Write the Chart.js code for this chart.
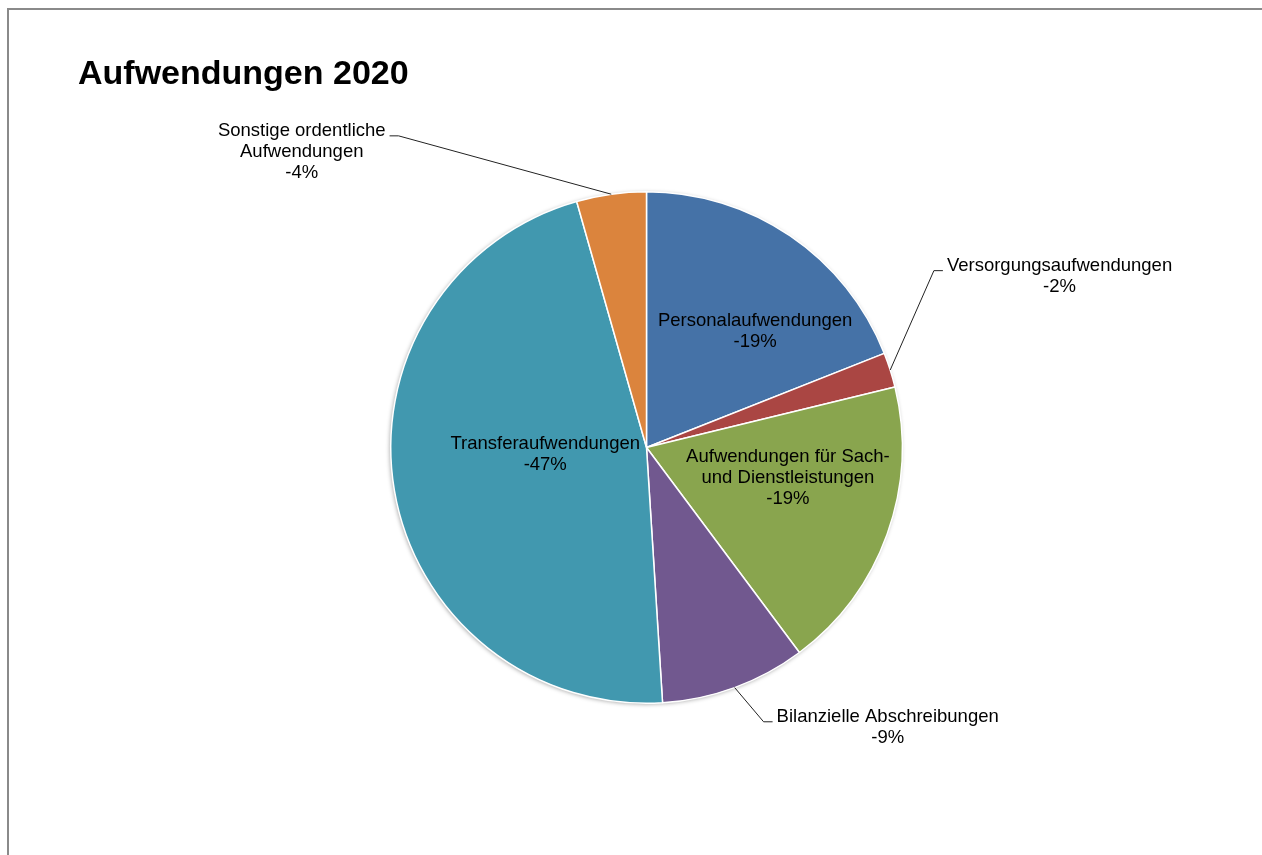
<!DOCTYPE html>
<html lang="de">
<head>
<meta charset="utf-8">
<title>Aufwendungen 2020</title>
<script src="https://cdn.jsdelivr.net/npm/chart.js@4.4.1/dist/chart.umd.min.js"></script>
<style>
    html, body { margin: 0; padding: 0; background: #fff; overflow: hidden; }
    #frame {
        position: absolute; left: 7px; top: 8px; width: 1400px; height: 1000px;
        border-left: 2px solid #8a8a8a; border-top: 2px solid #8a8a8a;
    }
    #chart { position: absolute; left: 0; top: 0; }
</style>
</head>
<body>
<div id="frame"></div>
<canvas id="chart" width="1262" height="855"></canvas>
<script>
// Anteile in Prozent (im Uhrzeigersinn ab 12 Uhr)
const categories = [
    ['Personalaufwendungen'],
    ['Versorgungsaufwendungen'],
    ['Aufwendungen für Sach-', 'und Dienstleistungen'],
    ['Bilanzielle Abschreibungen'],
    ['Transferaufwendungen'],
    ['Sonstige ordentliche', 'Aufwendungen']
];
const shares = [19.0, 2.2, 18.6, 9.2, 46.6, 4.4];
const colors = ['#4572A7', '#AA4643', '#89A54E', '#71588F', '#4198AF', '#DB843D'];

// Lage der Beschriftungen relativ zum Mittelpunkt, in Vielfachen des Radius
const labelPlacement = [
    { x: 0.425, y: -0.452 },
    { x: 1.615, y: -0.670, leader: 'left' },
    { x: 0.553, y: 0.120 },
    { x: 0.943, y: 1.094, leader: 'left' },
    { x: -0.396, y: 0.027 },
    { x: -1.348, y: -1.156, leader: 'right' }
];

const FONT = '"Liberation Sans", Arial, sans-serif';
const LINE_H = 21;

const pieExtras = {
    id: 'pieExtras',
    beforeDatasetsDraw(chart) {
        const arc = chart.getDatasetMeta(0).data[0];
        if (!arc) return;
        const ctx = chart.ctx;
        ctx.save();
        ctx.shadowColor = 'rgba(0,0,0,0.35)';
        ctx.shadowBlur = 4;
        ctx.shadowOffsetX = -1;
        ctx.shadowOffsetY = 1;
        ctx.fillStyle = '#fff';
        ctx.beginPath();
        ctx.arc(arc.x, arc.y, arc.outerRadius, 0, Math.PI * 2);
        ctx.fill();
        ctx.restore();
    },
    afterDraw(chart) {
        const ctx = chart.ctx;
        const meta = chart.getDatasetMeta(0);
        const total = shares.reduce((a, b) => a + b, 0);

        // Titel
        ctx.save();
        ctx.fillStyle = '#000';
        ctx.font = 'bold 34px ' + FONT;
        ctx.textAlign = 'left';
        ctx.textBaseline = 'alphabetic';
        ctx.fillText('Aufwendungen 2020', 78, 84);
        ctx.restore();

        meta.data.forEach((arc, i) => {
            const r = arc.outerRadius;
            const lines = categories[i].concat(['-' + Math.round(shares[i] / total * 100) + '%']);
            const place = labelPlacement[i];
            const cx = arc.x + place.x * r;
            const cy = arc.y + place.y * r;
            const top = cy - (lines.length - 1) * LINE_H / 2;

            ctx.save();
            ctx.font = '18.5px ' + FONT;
            ctx.fillStyle = '#000';
            ctx.textAlign = 'center';
            ctx.textBaseline = 'middle';
            lines.forEach((t, k) => ctx.fillText(t, cx, top + k * LINE_H));

            if (place.leader) {
                const w = ctx.measureText(categories[i][0]).width;
                const mid = (arc.startAngle + arc.endAngle) / 2;
                const ax = arc.x + Math.cos(mid) * r;
                const ay = arc.y + Math.sin(mid) * r;
                const side = place.leader === 'left' ? -1 : 1;
                const ex = cx + side * (w / 2 + 4);
                const ey = top + 5;
                ctx.strokeStyle = '#222';
                ctx.lineWidth = 1;
                ctx.beginPath();
                ctx.moveTo(ex, ey);
                ctx.lineTo(ex + side * 9, ey);
                ctx.lineTo(ax, ay);
                ctx.stroke();
            }
            ctx.restore();
        });
    }
};

new Chart(document.getElementById('chart'), {
    type: 'pie',
    data: {
        labels: categories.map(c => c.join(' ')),
        datasets: [{
            data: shares,
            backgroundColor: colors,
            borderColor: '#ffffff',
            borderWidth: 1.5
        }]
    },
    options: {
        responsive: false,
        animation: false,
        events: [],
        layout: { padding: { left: 390, right: 359, top: 191, bottom: 151 } },
        plugins: {
            legend: { display: false },
            tooltip: { enabled: false },
            title: { display: false }
        }
    },
    plugins: [pieExtras]
});
</script>
</body>
</html>
